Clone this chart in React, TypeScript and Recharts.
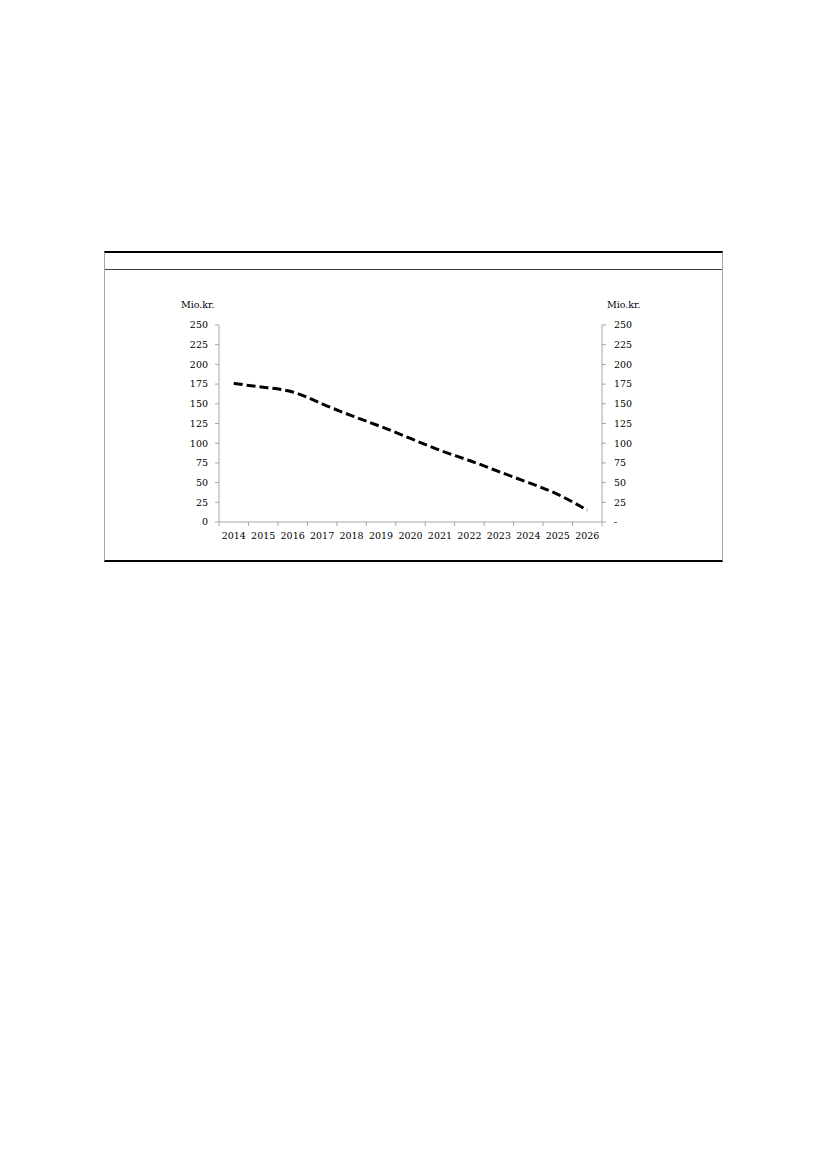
import React from "react";
import { LineChart, Line, XAxis, YAxis } from "recharts";

// Years on the category axis
const years = [2014, 2015, 2016, 2017, 2018, 2019, 2020, 2021, 2022, 2023, 2024, 2025, 2026];

// Values in Mio.kr.
const values = [176, 171, 165, 150, 135, 121, 106, 91, 78, 64, 50, 35, 15];

// Y tick labels
const yTicks = [0, 25, 50, 75, 100, 125, 150, 175, 200, 225, 250];

const unitLabel = "Mio.kr.";

const data = years.map((year, i) => ({ year, value: values[i] }));

// tick marks sit between the years, like Excel does it
const boundaries = [...years.map((y) => y - 0.5), years[years.length - 1] + 0.5];
const xDomain = [boundaries[0], boundaries[boundaries.length - 1]];

const FONT = "'DejaVu Serif', serif";
const AXIS_GREY = "#a6a6a6";
const tickStyle = { fontSize: 9.5, fill: "#000", fontFamily: FONT };

export default function App() {
  return (
    <div style={{ position: "relative", width: 811, height: 600 }}>
      {/* frame around the figure */}
      <div
        style={{
          position: "absolute",
          left: 96,
          top: 243,
          width: 617,
          height: 307,
          borderTop: "2px solid #000",
          borderBottom: "2px solid #000",
          borderLeft: `1px solid ${AXIS_GREY}`,
          borderRight: `1px solid ${AXIS_GREY}`,
        }}
      >
        <div
          style={{
            position: "absolute",
            left: 0,
            right: 0,
            top: 16,
            borderTop: "1px solid #404040",
          }}
        />
      </div>

      <span
        style={{
          position: "absolute",
          left: 173,
          top: 291,
          fontFamily: FONT,
          fontSize: 9.5,
          color: "#000",
        }}
      >
        {unitLabel}
      </span>
      <span
        style={{
          position: "absolute",
          left: 599,
          top: 291,
          fontFamily: FONT,
          fontSize: 9.5,
          color: "#000",
        }}
      >
        {unitLabel}
      </span>

      <div style={{ position: "absolute", left: 96, top: 261 }}>
        <LineChart
          width={618}
          height={292}
          data={data}
          margin={{ top: 56, right: 80, bottom: 14, left: 75 }}
        >
          <XAxis
            xAxisId="a_ticks"
            dataKey="year"
            type="number"
            domain={xDomain}
            ticks={boundaries}
            tickFormatter={() => ""}
            stroke={AXIS_GREY}
            tickSize={4}
            height={5}
            interval={0}
          />
          <XAxis
            xAxisId="b_labels"
            dataKey="year"
            type="number"
            domain={xDomain}
            ticks={years}
            axisLine={false}
            tickLine={false}
            tickSize={0}
            tickMargin={5}
            tick={tickStyle}
            height={20}
            interval={0}
          />
          <YAxis
            yAxisId="left"
            domain={[0, 250]}
            ticks={yTicks}
            stroke={AXIS_GREY}
            tickSize={4}
            tickMargin={7}
            tick={tickStyle}
            width={40}
            interval={0}
          />
          <YAxis
            yAxisId="right"
            orientation="right"
            domain={[0, 250]}
            ticks={yTicks}
            stroke={AXIS_GREY}
            tickSize={4}
            tickMargin={8}
            tick={{ ...tickStyle, textAnchor: "start" }}
            tickFormatter={(v) => (v === 0 ? "-" : String(v))}
            width={40}
            interval={0}
          />
          {/* same series on the right axis, invisible, so that axis gets its ticks */}
          <Line
            xAxisId="b_labels"
            yAxisId="right"
            dataKey="value"
            stroke="none"
            dot={false}
            activeDot={false}
            isAnimationActive={false}
          />
          <Line
            xAxisId="a_ticks"
            yAxisId="left"
            dataKey="value"
            type="natural"
            stroke="#000"
            strokeWidth={3}
            strokeDasharray="9 4"
            dot={false}
            isAnimationActive={false}
          />
        </LineChart>
      </div>
    </div>
  );
}
